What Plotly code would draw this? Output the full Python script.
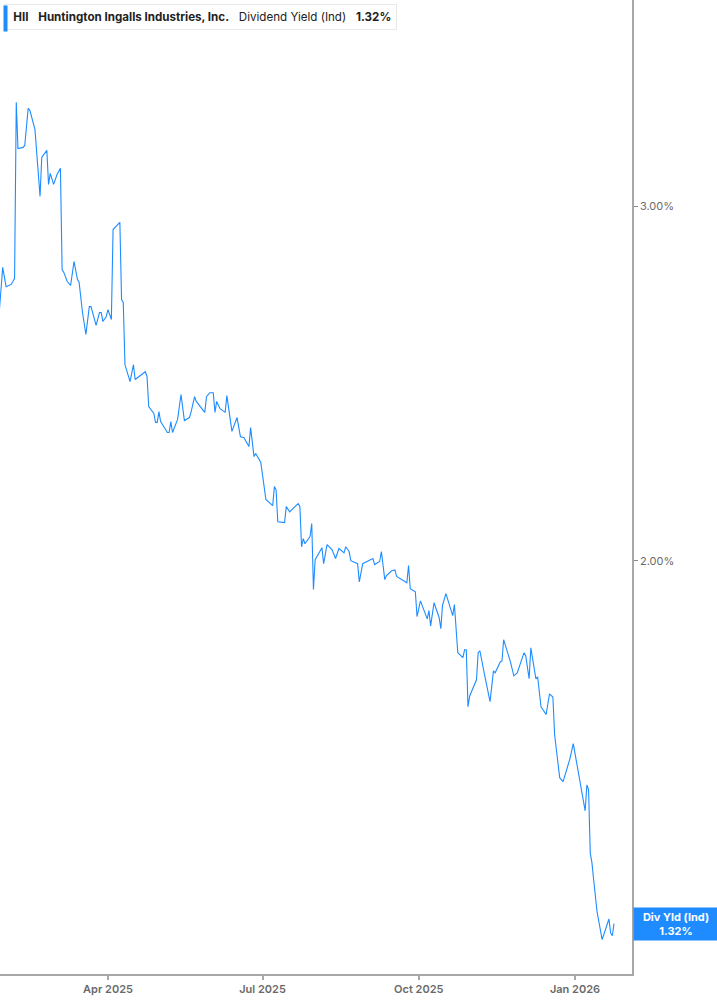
import math
import plotly.graph_objects as go

# HII dividend yield (indicated), %
dates = [
    "2025-01-27", "2025-01-29", "2025-01-31", "2025-02-03", "2025-02-04", "2025-02-05", "2025-02-06", "2025-02-07",
    "2025-02-10", "2025-02-11", "2025-02-13", "2025-02-14", "2025-02-17", "2025-02-18", "2025-02-20", "2025-02-21",
    "2025-02-24", "2025-02-25", "2025-02-26", "2025-02-28", "2025-03-02", "2025-03-04", "2025-03-05", "2025-03-06",
    "2025-03-08", "2025-03-10", "2025-03-12", "2025-03-14", "2025-03-15", "2025-03-17", "2025-03-19", "2025-03-21",
    "2025-03-22", "2025-03-25", "2025-03-27", "2025-03-28", "2025-03-29", "2025-03-31", "2025-04-01", "2025-04-03",
    "2025-04-04", "2025-04-08", "2025-04-09", "2025-04-10", "2025-04-11", "2025-04-14", "2025-04-16", "2025-04-17",
    "2025-04-23", "2025-04-24", "2025-04-25", "2025-04-28", "2025-04-29", "2025-04-30", "2025-05-01", "2025-05-02",
    "2025-05-06", "2025-05-07", "2025-05-08", "2025-05-09", "2025-05-12", "2025-05-14", "2025-05-16", "2025-05-19",
    "2025-05-20", "2025-05-22", "2025-05-23", "2025-05-28", "2025-05-29", "2025-05-31", "2025-06-02", "2025-06-03",
    "2025-06-04", "2025-06-06", "2025-06-09", "2025-06-10", "2025-06-13", "2025-06-16", "2025-06-18", "2025-06-20",
    "2025-06-23", "2025-06-24", "2025-06-26", "2025-06-27", "2025-06-30", "2025-07-03", "2025-07-07", "2025-07-08",
    "2025-07-09", "2025-07-10", "2025-07-14", "2025-07-15", "2025-07-17", "2025-07-22", "2025-07-23", "2025-07-24",
    "2025-07-25", "2025-07-26", "2025-07-29", "2025-07-30", "2025-07-31", "2025-08-01", "2025-08-05", "2025-08-06",
    "2025-08-07", "2025-08-08", "2025-08-11", "2025-08-13", "2025-08-15", "2025-08-18", "2025-08-19", "2025-08-21",
    "2025-08-22", "2025-08-26", "2025-08-27", "2025-08-29", "2025-09-04", "2025-09-05", "2025-09-08", "2025-09-09",
    "2025-09-11", "2025-09-12", "2025-09-15", "2025-09-17", "2025-09-18", "2025-09-23", "2025-09-24", "2025-09-25",
    "2025-09-26", "2025-09-29", "2025-09-30", "2025-10-02", "2025-10-06", "2025-10-07", "2025-10-08", "2025-10-10",
    "2025-10-13", "2025-10-14", "2025-10-15", "2025-10-17", "2025-10-21", "2025-10-22", "2025-10-24", "2025-10-27",
    "2025-10-28", "2025-10-29", "2025-10-30", "2025-10-31", "2025-11-04", "2025-11-05", "2025-11-06", "2025-11-09",
    "2025-11-12", "2025-11-14", "2025-11-15", "2025-11-18", "2025-11-19", "2025-11-20", "2025-11-22", "2025-11-24",
    "2025-11-26", "2025-11-28", "2025-12-02", "2025-12-03", "2025-12-05", "2025-12-06", "2025-12-09", "2025-12-10",
    "2025-12-12", "2025-12-15", "2025-12-17", "2025-12-19", "2025-12-20", "2025-12-23", "2025-12-25", "2025-12-29",
    "2025-12-31", "2026-01-07", "2026-01-08", "2026-01-09", "2026-01-10", "2026-01-11", "2026-01-12", "2026-01-14",
    "2026-01-17", "2026-01-21", "2026-01-22", "2026-01-23", "2026-01-24",
]
div_yield = [
    2.660, 2.798, 2.737, 2.744, 2.753, 2.763, 3.380, 3.206,
    3.210, 3.217, 3.357, 3.349, 3.277, 3.203, 3.035, 3.173,
    3.199, 3.077, 3.116, 3.077, 3.112, 3.134, 2.791, 2.782,
    2.753, 2.741, 2.817, 2.760, 2.750, 2.657, 2.591, 2.675,
    2.675, 2.618, 2.657, 2.657, 2.630, 2.645, 2.666, 2.636,
    2.922, 2.946, 2.697, 2.688, 2.503, 2.455, 2.503, 2.461,
    2.483, 2.469, 2.386, 2.367, 2.343, 2.343, 2.372, 2.345,
    2.316, 2.316, 2.345, 2.316, 2.351, 2.419, 2.348, 2.356,
    2.372, 2.413, 2.400, 2.370, 2.413, 2.424, 2.424, 2.370,
    2.400, 2.380, 2.370, 2.416, 2.319, 2.356, 2.305, 2.303,
    2.279, 2.329, 2.253, 2.261, 2.238, 2.145, 2.130, 2.177,
    2.169, 2.091, 2.089, 2.128, 2.115, 2.135, 2.128, 2.032,
    2.051, 2.039, 2.056, 2.087, 1.935, 2.002, 2.030, 1.993,
    2.018, 2.037, 2.025, 2.005, 2.028, 2.018, 2.032, 2.021,
    2.000, 1.993, 1.952, 1.993, 2.005, 1.991, 1.998, 2.021,
    1.957, 1.966, 1.977, 1.979, 1.964, 1.952, 1.950, 1.989,
    1.937, 1.930, 1.876, 1.910, 1.871, 1.889, 1.856, 1.906,
    1.874, 1.850, 1.900, 1.926, 1.878, 1.902, 1.800, 1.790,
    1.806, 1.806, 1.692, 1.713, 1.745, 1.800, 1.804, 1.751,
    1.702, 1.763, 1.759, 1.781, 1.783, 1.827, 1.806, 1.781,
    1.753, 1.759, 1.800, 1.794, 1.747, 1.810, 1.747, 1.751,
    1.692, 1.677, 1.717, 1.711, 1.639, 1.560, 1.553, 1.594,
    1.622, 1.502, 1.547, 1.539, 1.431, 1.415, 1.388, 1.338,
    1.296, 1.327, 1.306, 1.302, 1.32,
]

x_tick_vals = ["2025-04-01", "2025-07-01", "2025-10-01", "2026-01-01"]
x_tick_text = ["Apr 2025", "Jul 2025", "Oct 2025", "Jan 2026"]
y_tick_vals = [2.0, 3.0]
y_tick_text = ["2.00%", "3.00%"]

last_value = 1.32
blue = "#1E8CFF"
axis_grey = "#a8a8a8"

fig = go.Figure()
fig.add_trace(go.Scatter(
    x=dates, y=div_yield, mode="lines",
    line=dict(color=blue, width=1.1),
    hoverinfo="skip", showlegend=False,
))

fig.update_layout(
    width=717, height=1005,
    margin=dict(l=0, r=85, t=0, b=31),
    paper_bgcolor="white", plot_bgcolor="white",
    font=dict(family="Inter, Roboto, sans-serif", color="#666"),
    xaxis=dict(
        range=["2025-01-27 10:00", "2026-02-03 14:00"],
        tickvals=x_tick_vals, ticktext=x_tick_text,
        showgrid=False, zeroline=False,
        showline=True, linecolor=axis_grey, linewidth=2,
        ticks="outside", ticklen=4, tickcolor=axis_grey, tickwidth=1.5,
        tickfont=dict(size=11, color="#6a6a6a", weight=600),
    ),
    yaxis=dict(
        type="log", side="right",
        range=[math.log10(1.246), math.log10(3.80)],
        tickvals=y_tick_vals, ticktext=y_tick_text,
        showgrid=False, zeroline=False,
        showline=True, linecolor=axis_grey, linewidth=1.5,
        ticks="outside", ticklen=4, tickcolor="#888", tickwidth=1,
        tickfont=dict(size=11, color="#6a6a6a"),
    ),
)

# header box
fig.add_annotation(
    xref="paper", yref="paper", x=0, y=1, xanchor="left", yanchor="top",
    xshift=4, yshift=-4,
    text="&nbsp;<b>HII</b>&nbsp;&nbsp;&nbsp;<b>Huntington Ingalls Industries, Inc.</b>&nbsp;&nbsp;&nbsp;"
         "Dividend Yield (Ind)&nbsp;&nbsp;&nbsp;<b>1.32%</b>",
    showarrow=False, align="left",
    font=dict(size=11.6, color="#222"),
    bgcolor="white", bordercolor="#e8e8e8", borderwidth=1, borderpad=5,
)
# blue marker at the left edge of the header
fig.add_annotation(
    xref="paper", yref="paper", x=0, y=1, xanchor="left", yanchor="top",
    xshift=3, yshift=-5,
    text="&nbsp;", width=1, height=23, borderpad=1,
    showarrow=False, font=dict(size=6),
    bgcolor=blue,
)

# last value tag on the right axis
fig.add_annotation(
    xref="paper", yref="y", x=1, y=math.log10(last_value),
    xanchor="left", yanchor="middle", xshift=1,
    text="<b>Div Yld (Ind)<br>1.32%</b>",
    showarrow=False, align="center", width=80,
    font=dict(size=11, color="white"),
    bgcolor=blue, borderpad=2,
)

fig.write_html("out.html", config={"displayModeBar": False},
               post_script="document.body.style.margin='0';")
